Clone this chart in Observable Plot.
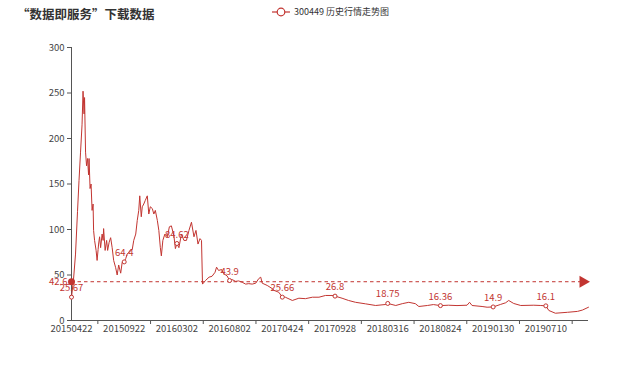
<!DOCTYPE html>
<html><head><meta charset="utf-8">
<script src="https://cdn.jsdelivr.net/npm/d3@7"></script>
<script src="https://cdn.jsdelivr.net/npm/@observablehq/plot@0.6"></script>
<style>
body{margin:0;background:#fff;}
#wrap{position:relative;width:640px;height:372px;overflow:hidden;font-family:'Noto Sans CJK SC',sans-serif;}
#title{position:absolute;left:17px;top:4px;font-size:12.5px;font-weight:bold;color:#333;white-space:nowrap;}
#legend{position:absolute;left:271px;top:5px;font-size:9px;color:#333;display:flex;align-items:center;white-space:nowrap;}
#chart{position:absolute;left:0;top:0;}
</style></head><body>
<div id="wrap"><div id="chart"></div><div id="title"></div><div id="legend"></div></div>
<script>
const titleText = "“数据即服务”下载数据";
const seriesName = "300449 历史行情走势图";
const red = "#c23531";

// trading-day index and closing price
const day = [0,4,8,12,15,18,21,23,25,26,28,30,32,34,35,37,39,41,43,44,46,49,51,53,54,56,58,61,63,64,67,70,72,75,78,81,84,88,91,94,98,101,105,108,111,114,118,121,124,128,131,134,136,139,141,144,147,151,154,157,161,164,167,171,174,177,179,182,186,191,195,199,204,207,210,214,219,224,229,234,239,244,248,252,256,259,261,267,274,280,286,289,293,299,303,310,315,320,327,333,340,347,353,360,367,373,377,380,390,400,404,413,420,426,440,453,466,480,493,506,519,525,539,552,566,586,606,626,630,646,659,672,685,692,709,721,735,751,768,788,793,798,818,828,840,855,865,871,881,895,921,935,945,951,964,988,1008,1018,1030];
const price = [25.67,45,73,120,154,185,215,252,227,245,185,170,178,160,178,145,150,121,128,99,88,77,66,78,84,92,80,95,88,101,77,88,77,86,91,80,66,58,50,61,52,64,64.4,68,73,75,78,78,88,95,110,121,137,114,125,128,132,137,117,125,123,117,121,110,99,80,71,88,95,92,103,104,93,79,84.62,80,95,88,88,99,108,92,99,84,90,88,40,44,47.6,48.6,53,58.6,55,56,51.6,49,43.9,45,43,43.5,42,40,40.5,40,41,46,47.6,41,38.5,35,33,31,25.66,25.6,22,24.5,24,25.6,25.6,27.5,27.5,26.8,24.5,22,20,18.3,16.5,17.6,18.75,16.5,18.5,20,18.5,15.4,16.5,17.5,16.36,16.8,16.4,16.8,20,16.5,15.4,14.6,14.9,17.7,19.5,22,18.7,16.5,16.8,16.5,16.1,11,8,9,10,11.5,14.6];

const labelDays = [0,105,210,315,420,525,630,735,840,945];
const labelDates = ["20150422","20150922","20160302","20160802","20170424","20170928","20180316","20180824","20190130","20190710"];
const tickDays = [52.5,157.5,262.5,367.5,472.5,577.5,682.5,787.5,892.5,997.5];
const yTicks = [0,50,100,150,200,250,300];
const avgPrice = 42.6;
const lastDay = 1030;
const arrowDay = 1019;

document.getElementById("title").textContent = titleText;
document.getElementById("legend").innerHTML =
  `<svg width="20" height="12"><line x1="1" y1="6" x2="19" y2="6" stroke="${red}" stroke-width="1.2"/><circle cx="10" cy="6" r="3.8" fill="#fff" stroke="${red}" stroke-width="1.2"/></svg><span style="margin-left:3px">${seriesName}</span>`;

const data = day.map((d, i) => ({day: d, price: price[i]}));
const labeled = data.filter(p => labelDays.includes(p.day));

const chart = Plot.plot({
  width: 640, height: 372,
  marginTop: 47, marginBottom: 52, marginLeft: 71, marginRight: 52,
  style: {fontFamily: "'Noto Sans CJK SC', sans-serif", fontSize: "9.5px", color: "#444", background: "white"},
  x: {domain: [0, lastDay]},
  y: {domain: [0, 300]},
  marks: [
    Plot.axisY({ticks: yTicks, tickSize: 4, tickPadding: 3, label: null, stroke: "#555"}),
    Plot.axisX({ticks: labelDays, tickSize: 0, tickPadding: 5, label: null,
      tickFormat: d => labelDates[labelDays.indexOf(d)]}),
    Plot.axisX({ticks: tickDays, tickSize: 4, tickFormat: () => "", label: null, stroke: "#555"}),
    Plot.ruleX([0], {y1: 0, y2: 300, stroke: "#555"}),
    Plot.ruleY([0], {stroke: "#555"}),
    Plot.ruleY([avgPrice], {x1: 0, x2: arrowDay, stroke: red, strokeDasharray: "3.5,3", strokeWidth: 1}),
    Plot.line(data, {x: "day", y: "price", stroke: red, strokeWidth: 1}),
    Plot.dot(labeled, {x: "day", y: "price", r: 2, fill: "white", stroke: red, strokeWidth: 1}),
    Plot.text(labeled, {x: "day", y: "price", text: d => String(d.price), dy: -9, fill: red, fontSize: 9.5}),
    Plot.dot([avgPrice], {x: 0, y: d => d, r: 3.5, fill: red}),
    Plot.dot([avgPrice], {x: arrowDay, y: d => d, symbol: "triangle", rotate: 90, r: 4.5, fill: red, stroke: "none"}),
    Plot.text([avgPrice], {x: 0, y: d => d, text: d => String(d), textAnchor: "end", dx: -4, fill: red, fontSize: 9.5})
  ]
});
document.getElementById("chart").appendChild(chart);
</script>
</body></html>
